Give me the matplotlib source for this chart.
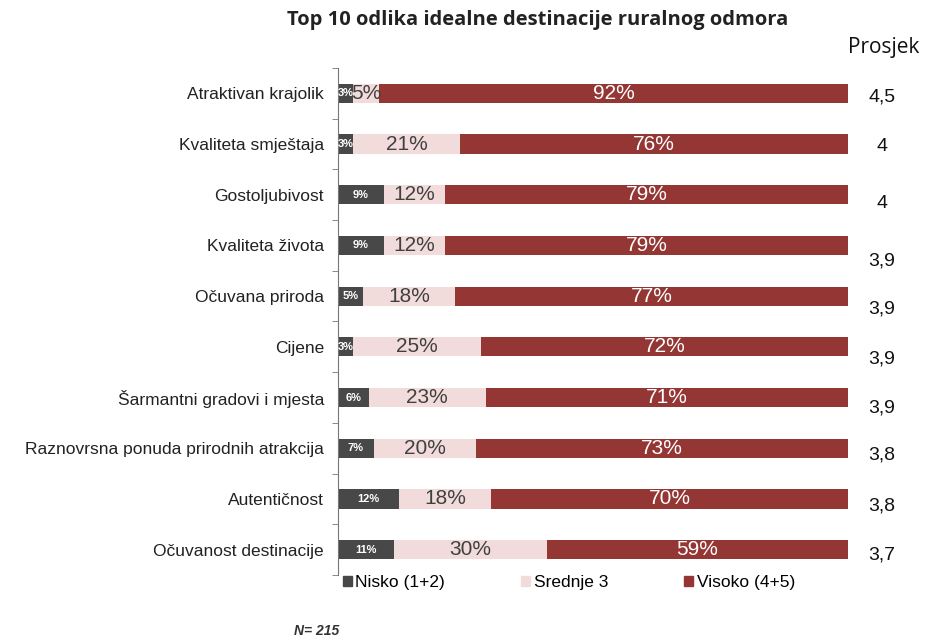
import matplotlib.pyplot as plt
import numpy as np
from matplotlib.patches import Patch

plt.rcParams['font.family'] = ['Liberation Sans', 'DejaVu Sans']

kategorije = ['Atraktivan krajolik', 'Kvaliteta smještaja', 'Gostoljubivost',
              'Kvaliteta života', 'Očuvana priroda', 'Cijene',
              'Šarmantni gradovi i mjesta', 'Raznovrsna ponuda prirodnih atrakcija',
              'Autentičnost', 'Očuvanost destinacije']
nisko = [3, 3, 9, 9, 5, 3, 6, 7, 12, 11]
srednje = [5, 21, 12, 12, 18, 25, 23, 20, 18, 30]
visoko = [92, 76, 79, 79, 77, 72, 71, 73, 70, 59]
prosjek = ['4,5', '4', '4', '3,9', '3,9', '3,9', '3,9', '3,8', '3,8', '3,7']

# pomak brojeva "Prosjek" prema dolje (kao na originalu)
pomak = [0.08, 0.04, 0.18, 0.3, 0.26, 0.24, 0.2, 0.14, 0.14, 0.1]

c_nisko = '#484848'
c_srednje = '#f2dcdb'
c_visoko = '#943634'

fig = plt.figure(figsize=(9.25, 6.37), dpi=100)
ax = fig.add_axes([0.3654, 0.0973, 0.5514, 0.796])

y = np.arange(len(kategorije))
nisko = np.array(nisko)
srednje = np.array(srednje)
visoko = np.array(visoko)

h = 0.38
ax.barh(y, nisko, height=h, color=c_nisko)
ax.barh(y, srednje, left=nisko, height=h, color=c_srednje)
ax.barh(y, visoko, left=nisko + srednje, height=h, color=c_visoko)

for i in range(len(y)):
    ax.text(nisko[i] / 2, y[i], f'{nisko[i]}%', ha='center', va='center',
            color='white', fontsize=8, fontweight='bold')
    ax.text(nisko[i] + srednje[i] / 2, y[i], f'{srednje[i]}%', ha='center', va='center',
            color='#404040', fontsize=15)
    ax.text(nisko[i] + srednje[i] + visoko[i] / 2, y[i], f'{visoko[i]}%', ha='center',
            va='center', color='white', fontsize=15)
    ax.text(106.6, y[i] + pomak[i], prosjek[i], ha='center', va='center', fontsize=14,
            color='#111111', clip_on=False)

ax.set_xlim(0, 100)
ax.set_ylim(len(y) - 0.5, -0.5)
ax.set_yticks(y)
ax.set_yticklabels(kategorije, fontsize=12.5, color='#222222')
ax.set_yticks(np.arange(-0.5, len(y), 1), minor=True)
ax.tick_params(axis='y', which='major', length=0, pad=10)
ax.tick_params(axis='y', which='minor', length=4, color='#777777')
ax.set_xticks([])
for s in ['top', 'right', 'bottom']:
    ax.spines[s].set_visible(False)
ax.spines['left'].set_color('#777777')

fig.text(0.581, 0.968, 'Top 10 odlika idealne destinacije ruralnog odmora',
         ha='center', va='center', fontsize=14.5, fontweight='bold',
         family=['Open Sans', 'DejaVu Sans'], color='#222222')
fig.text(0.955, 0.926, 'Prosjek', ha='center', va='center', fontsize=15,
         family=['Open Sans', 'DejaVu Sans'], color='#111111')
fig.text(0.342, 0.01, 'N= 215', ha='center', va='center', fontsize=10,
         fontstyle='italic', fontweight='bold', color='#333333')

handles = [Patch(color=c_nisko, label='Nisko (1+2)'),
           Patch(color=c_srednje, label='Srednje 3'),
           Patch(color=c_visoko, label='Visoko (4+5)')]
fig.legend(handles=handles, loc='center left', bbox_to_anchor=(0.371, 0.085),
           ncol=3, frameon=False, fontsize=12.5, handlelength=0.5, handleheight=0.5,
           handletextpad=0.2, columnspacing=4.4, borderaxespad=0, borderpad=0)

fig.savefig('out.png', dpi=100)
